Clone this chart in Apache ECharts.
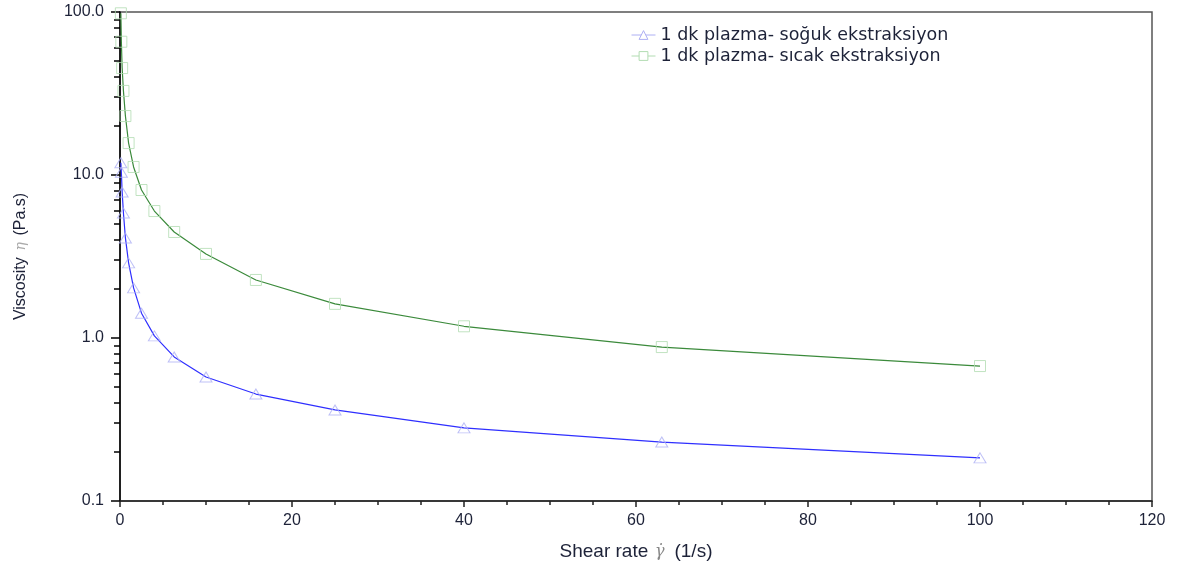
<!DOCTYPE html>
<html>
<head>
<meta charset="utf-8">
<script src="https://cdn.jsdelivr.net/npm/echarts@6/dist/echarts.min.js"></script>
<style>
  html, body { margin: 0; padding: 0; background: #fff; }
  #chart { width: 1185px; height: 572px; }
</style>
</head>
<body>
<div id="chart"></div>
<script>
// Shear rate (1/s) at each measuring point
const shearRate = [0.1, 0.158, 0.25, 0.4, 0.63, 1, 1.58, 2.5, 4, 6.3, 10, 15.8, 25, 40, 63, 100];
// Viscosity (Pa.s), cold extraction
const coldViscosity = [11.9, 10.4, 7.87, 5.85, 4.11, 2.89, 2.03, 1.42, 1.03, 0.765, 0.576, 0.453, 0.362, 0.281, 0.230, 0.184];
// Viscosity (Pa.s), hot extraction
const hotViscosity = [98.2, 65.7, 45.3, 32.8, 23.0, 15.7, 11.2, 8.09, 6.01, 4.47, 3.28, 2.27, 1.62, 1.18, 0.88, 0.673];

const seriesNames = ['1 dk plazma- soğuk ekstraksiyon', '1 dk plazma- sıcak ekstraksiyon'];
const xTicks = [0, 20, 40, 60, 80, 100, 120];
const yDecades = [0.1, 1, 10, 100];
const yMinorSteps = [2, 3, 4, 5, 6, 7, 8, 9];

const TEXT = '#1d2238';
const BLUE_LINE = '#2f2fff';
const BLUE_MARK = '#aeb0f4';
const GREEN_LINE = '#3b8a3b';
const GREEN_MARK = '#b2dcb2';

const pairs = (xs, ys) => xs.map((x, i) => [x, ys[i]]);

// minor log ticks 0.2 … 90, placed on a linear log10 companion axis
const minorLog = [];
yDecades.slice(0, -1).forEach(d => yMinorSteps.forEach(s => minorLog.push(Math.log10(d * s))));

const chart = echarts.init(document.getElementById('chart'), null, { renderer: 'canvas' });

chart.setOption({
  animation: false,
  backgroundColor: '#fff',
  grid: {
    left: 120, right: 33, top: 12, bottom: 71,
    show: true, borderColor: '#555', borderWidth: 1.5, backgroundColor: 'transparent'
  },
  legend: {
    orient: 'vertical',
    left: 626, top: 21,
    itemGap: 3, itemWidth: 24, itemHeight: 11,
    textStyle: { fontFamily: 'DejaVu Sans', fontSize: 17.5, color: TEXT },
    data: [
      { name: seriesNames[0],
        itemStyle: { color: '#fff', borderColor: BLUE_MARK, borderWidth: 1 },
        lineStyle: { color: BLUE_MARK, width: 1 } },
      { name: seriesNames[1],
        itemStyle: { color: '#fff', borderColor: GREEN_MARK, borderWidth: 1 },
        lineStyle: { color: GREEN_MARK, width: 1 } }
    ]
  },
  xAxis: {
    type: 'value',
    min: 0, max: 120, interval: 20,
    name: '{a|Shear rate}  {g|γ̇}   {a|(1/s)}',
    nameLocation: 'middle', nameGap: 41,
    nameTextStyle: {
      rich: {
        a: { fontFamily: 'Liberation Sans', fontSize: 19, color: TEXT },
        g: { fontFamily: 'DejaVu Serif', fontStyle: 'italic', fontSize: 16, color: '#888' }
      }
    },
    axisLine: { show: true, onZero: false, lineStyle: { color: '#222', width: 1.5 } },
    axisTick: { show: true, length: 6, lineStyle: { color: '#222', width: 1.5 } },
    minorTick: { show: true, splitNumber: 4, length: 4, lineStyle: { color: '#222', width: 1.5 } },
    axisLabel: {
      margin: 12, fontFamily: 'Liberation Sans', fontSize: 16, color: TEXT,
      customValues: xTicks
    },
    splitLine: { show: false }
  },
  yAxis: [
    {
      type: 'log', logBase: 10,
      min: yDecades[0], max: yDecades[yDecades.length - 1],
      name: '{a|Viscosity}  {g|η}  {a|(Pa.s)}',
      nameLocation: 'middle', nameGap: 91, nameRotate: 90,
      nameTextStyle: {
        rich: {
          a: { fontFamily: 'Liberation Sans', fontSize: 16, color: TEXT },
          g: { fontFamily: 'DejaVu Serif', fontStyle: 'italic', fontSize: 14, color: '#aaa' }
        }
      },
      axisLine: { show: true, lineStyle: { color: '#000', width: 1.5 } },
      axisTick: { show: true, length: 9, lineStyle: { color: '#000', width: 1.5 } },
      axisLabel: {
        margin: 16, fontFamily: 'Liberation Sans', fontSize: 16, color: TEXT,
        formatter: v => Number(v).toFixed(1)
      },
      splitLine: { show: false }
    },
    {
      // companion axis carrying the logarithmic minor ticks
      type: 'value', min: -1, max: 2, position: 'left',
      axisLine: { show: false },
      axisTick: { show: true, length: 6, customValues: minorLog, lineStyle: { color: '#000', width: 1.5 } },
      axisLabel: { show: false },
      splitLine: { show: false }
    }
  ],
  series: [
    {
      name: seriesNames[0], type: 'line', yAxisIndex: 0,
      data: pairs(shearRate, coldViscosity),
      showSymbol: false, symbol: 'triangle', symbolSize: [12, 10],
      lineStyle: { color: BLUE_LINE, width: 1.2 },
      itemStyle: { color: BLUE_LINE },
      z: 3
    },
    {
      name: seriesNames[1], type: 'line', yAxisIndex: 0,
      data: pairs(shearRate, hotViscosity),
      showSymbol: false, symbol: 'rect', symbolSize: [11, 11],
      lineStyle: { color: GREEN_LINE, width: 1.2 },
      itemStyle: { color: GREEN_LINE },
      z: 3
    },
    {
      name: seriesNames[0], type: 'scatter', yAxisIndex: 0,
      data: pairs(shearRate, coldViscosity),
      symbol: 'triangle', symbolSize: [12, 10],
      itemStyle: { color: 'rgba(0,0,0,0)', borderColor: BLUE_MARK, borderWidth: 1 },
      z: 4
    },
    {
      name: seriesNames[1], type: 'scatter', yAxisIndex: 0,
      data: pairs(shearRate, hotViscosity),
      symbol: 'rect', symbolSize: [11, 11],
      itemStyle: { color: 'rgba(0,0,0,0)', borderColor: GREEN_MARK, borderWidth: 1 },
      z: 4
    }
  ]
});
</script>
</body>
</html>
